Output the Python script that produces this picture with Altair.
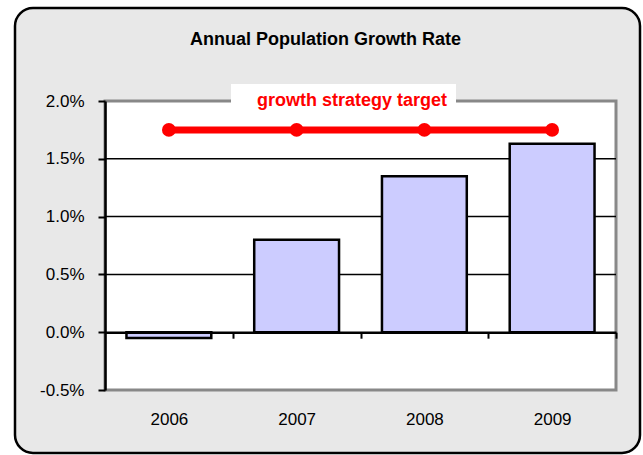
import altair as alt
import pandas as pd

years = ["2006", "2007", "2008", "2009"]
growth = [-0.0005, 0.0080, 0.0135, 0.0163]
target = [0.0175, 0.0175, 0.0175, 0.0175]
series_name = "growth strategy target"
y_ticks = [-0.005, 0.0, 0.005, 0.010, 0.015, 0.020]
grid_values = [0.005, 0.010, 0.015]

W, H = 511, 289
STEP = W / len(years)
FONT = "Liberation Sans"

bars_df = pd.DataFrame({"year": years, "value": growth})
target_df = pd.DataFrame({"year": years, "value": target, "series": [series_name] * len(years)})
grid_df = pd.DataFrame({"value": grid_values})
one = pd.DataFrame({"a": [0]})

x_scale = alt.Scale(domain=years, paddingInner=0.336, paddingOuter=0.168)
y_scale = alt.Scale(domain=[-0.005, 0.02], nice=False, zero=False)

frame = alt.Chart(one).mark_rect(
    fill="#e8e8e8", stroke="black", strokeWidth=2.5, cornerRadius=18
).encode(
    x=alt.value(-90), x2=alt.value(535), y=alt.value(-93), y2=alt.value(352)
)

plot_bg = alt.Chart(one).mark_rect(
    fill="white", stroke="#888888", strokeWidth=3
).encode(
    x=alt.value(0), x2=alt.value(W), y=alt.value(0), y2=alt.value(H)
)

grid = alt.Chart(grid_df).mark_rule(color="black", strokeWidth=1.5).encode(
    y=alt.Y("value:Q", scale=y_scale)
)

bars = alt.Chart(bars_df).mark_bar(
    fill="#ccccff", stroke="black", strokeWidth=2.5
).encode(
    x=alt.X("year:N", scale=x_scale, sort=years,
            axis=alt.Axis(title=None, orient="bottom", offset=-H * 0.2,
                          domain=True, domainColor="black", domainWidth=2.5,
                          ticks=True, tickOffset=STEP / 2, tickSize=6, tickWidth=2,
                          tickColor="black", labelOffset=-STEP / 2,
                          labelPadding=73, labelFont=FONT,
                          labelFontSize=17, labelColor="black", labelAngle=0,
                          grid=False, zindex=1)),
    y=alt.Y("value:Q", scale=y_scale,
            axis=alt.Axis(title=None, values=y_ticks, format=".1%",
                          labelExpr="replace(datum.label, '\u2212', '-')",
                          domain=True, domainColor="black", domainWidth=2.5,
                          ticks=True, tickSize=7, tickWidth=2, tickColor="black",
                          labelPadding=14, labelFont=FONT, labelFontSize=17,
                          labelColor="black", grid=False, zindex=1)),
)

legend = alt.Legend(
    title=None, orient="none", legendX=126, legendY=-17,
    fillColor="white", padding=8, symbolOpacity=0, symbolSize=1,
    labelOffset=0, labelFont=FONT, labelFontSize=18, labelFontWeight="bold",
    labelColor="red", labelLimit=400,
)
color = alt.Color("series:N", scale=alt.Scale(domain=[series_name], range=["red"]),
                  legend=legend)

line = alt.Chart(target_df).mark_line(strokeWidth=7).encode(
    x=alt.X("year:N", scale=x_scale, sort=years),
    y=alt.Y("value:Q", scale=y_scale),
    color=color,
)
points = alt.Chart(target_df).mark_circle(size=190, opacity=1).encode(
    x=alt.X("year:N", scale=x_scale, sort=years),
    y=alt.Y("value:Q", scale=y_scale),
    color=color,
)

chart = alt.layer(frame, plot_bg, grid, bars, line, points).properties(
    width=W, height=H,
    title=alt.TitleParams("Annual Population Growth Rate", font=FONT, fontSize=18,
                          fontWeight="bold", color="black", anchor="middle",
                          baseline="alphabetic", offset=-56, dx=-35),
    autosize=alt.AutoSizeParams(type="none"),
    padding={"left": 105, "top": 101, "right": 27, "bottom": 65},
    background="white",
).configure_view(stroke=None, fill=None)

chart.save("out.html", embed_options={"renderer": "svg", "actions": False})
